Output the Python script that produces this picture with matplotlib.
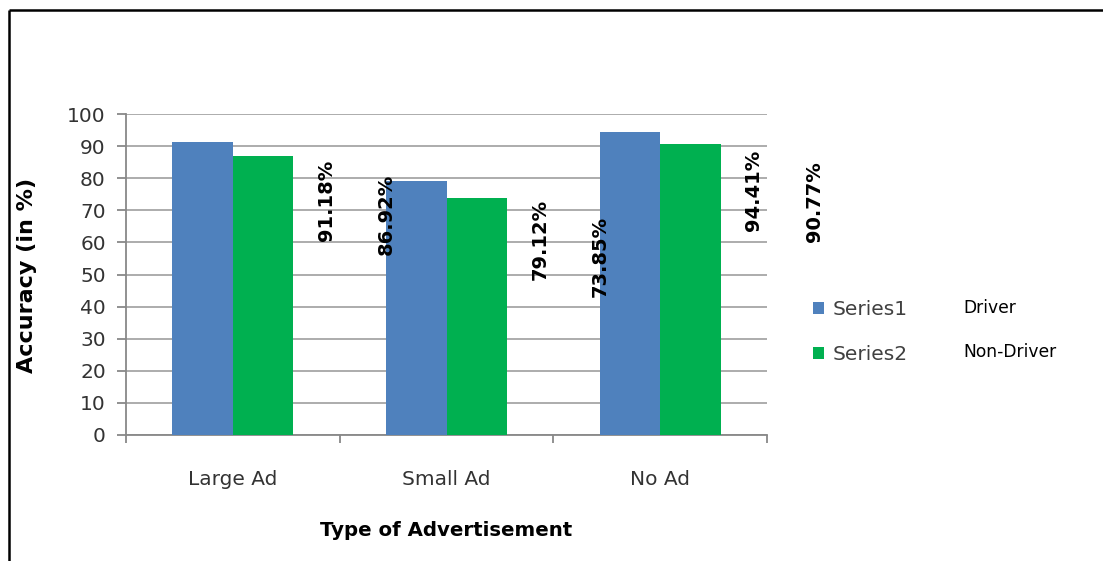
import matplotlib
matplotlib.use("Agg")
import matplotlib.pyplot as plt
from matplotlib.lines import Line2D
import numpy as np

categories = ["Large Ad", "Small Ad", "No Ad"]
series1 = [91.18, 79.12, 94.41]
series2 = [86.92, 73.85, 90.77]
series_names = ["Series1", "Series2"]
series_desc = ["Driver", "Non-Driver"]
y_ticks = [0, 10, 20, 30, 40, 50, 60, 70, 80, 90, 100]

plt.rcParams['font.family'] = ['DejaVu Sans']

W, H = 1103, 561
fig = plt.figure(figsize=(W / 100, H / 100), dpi=100)
fig.patch.set_facecolor("white")

# frame lines (left and top)
fig.add_artist(Line2D([8.5 / W, 8.5 / W], [0, 1 - 9.5 / H], color="black", lw=1.8,
                      solid_capstyle="butt", transform=fig.transFigure))
fig.add_artist(Line2D([8.5 / W, 1], [1 - 9.5 / H, 1 - 9.5 / H], color="black", lw=1.8,
                      solid_capstyle="butt", transform=fig.transFigure))

ax = fig.add_axes([126 / W, 1 - 435 / H, (767 - 126) / W, (435 - 114) / H])

x = np.arange(len(categories))
bw = 0.283
blue = "#4F81BD"
green = "#00B050"
b1 = ax.bar(x - bw / 2, series1, bw, color=blue, label=series_names[0], zorder=3)
b2 = ax.bar(x + bw / 2, series2, bw, color=green, label=series_names[1], zorder=3)

ax.set_xlim(-0.5, len(categories) - 0.5)
ax.set_ylim(0, 100)
ax.set_yticks(y_ticks)
ax.yaxis.grid(True, color="#A6A6A6", lw=1.3, zorder=0)
ax.set_axisbelow(True)
for s in ["top", "right"]:
    ax.spines[s].set_visible(False)
for s in ["left", "bottom"]:
    ax.spines[s].set_color("#888888")
    ax.spines[s].set_linewidth(1.3)

ax.set_xticks(np.arange(len(categories) + 1) - 0.5, minor=False)
ax.set_xticklabels([])
ax.set_xticks(x, minor=True)
ax.set_xticklabels(categories, minor=True, fontsize=14.5, color="#333333")
ax.tick_params(axis="x", which="major", length=6, width=1.3, color="#888888")
ax.tick_params(axis="x", which="minor", length=0, pad=25)
ax.tick_params(axis="y", length=6.5, width=1.3, color="#888888", labelsize=14.5, labelcolor="#333333", pad=8)

fig.text(27 / W, 1 - 275 / H, "Accuracy (in %)", rotation=90, fontsize=16, fontweight="bold",
         ha="center", va="center")
fig.text(446 / W, 1 - 530 / H, "Type of Advertisement", fontsize=14.2, fontweight="bold",
         ha="center", va="center")

# misplaced value labels, as in the original
for bars, vals in ((b1, series1), (b2, series2)):
    for rect, v in zip(bars, vals):
        cx = rect.get_x() + rect.get_width() / 2
        ax.annotate(f"{v:.2f}%", xy=(cx, v), xytext=(89, -42), textcoords="offset points",
                    rotation=90, ha="center", va="center", fontsize=14, fontweight="bold",
                    color="black", annotation_clip=False, zorder=5)

leg = ax.legend(loc="upper left", bbox_to_anchor=(803 / W, 1 - 290 / H), bbox_transform=fig.transFigure,
                frameon=False, fontsize=14.5, handlelength=0.55, handleheight=0.55, handletextpad=0.4,
                labelspacing=1.3, borderpad=0)
for t in leg.get_texts():
    t.set_color("#404040")

fig.text(963 / W, 1 - 308 / H, series_desc[0], fontsize=12.3, va="center", ha="left")
fig.text(963 / W, 1 - 352 / H, series_desc[1], fontsize=12.3, va="center", ha="left")

fig.savefig("out.png", dpi=100)
